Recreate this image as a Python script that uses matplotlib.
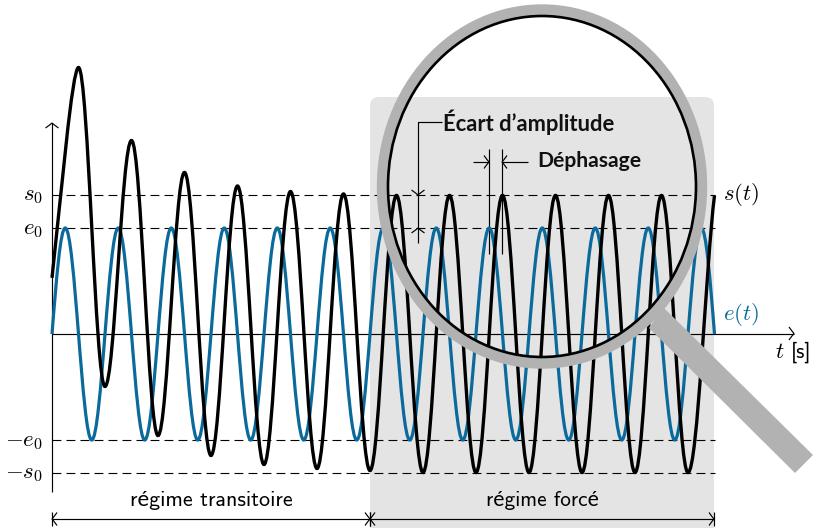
import math
import matplotlib
matplotlib.use("Agg")
import matplotlib.pyplot as plt
from matplotlib.path import Path
from matplotlib.patches import PathPatch, FancyBboxPatch, Ellipse, Polygon
from matplotlib.transforms import Affine2D

# ---- data (t in periods, amplitude in units of e0) ----
e_times = [0.0, 0.25, 0.75, 1.25, 1.75, 2.25, 2.75, 3.25, 3.75, 4.25, 4.75, 5.25, 5.75,
           6.25, 6.75, 7.25, 7.75, 8.25, 8.75, 9.25, 9.75, 10.25, 10.75, 11.25, 11.75, 12.25, 12.5]
e_values = [0.0, 1, -1, 1, -1, 1, -1, 1, -1, 1, -1, 1, -1,
            1, -1, 1, -1, 1, -1, 1, -1, 1, -1, 1, -1, 1, 0.0]
s_times = [0.0, 0.5, 1.0, 1.5, 2.0, 2.5, 3.0, 3.5, 4.0, 4.5, 5.0, 5.5, 6.0,
           6.5, 7.0, 7.5, 8.0, 8.5, 9.0, 9.5, 10.0, 10.5, 11.0, 11.5, 12.0, 12.5]
s_values = [0.53, 2.514, -0.495, 1.825, -0.958, 1.524, -1.146, 1.396, -1.231, 1.344, -1.269, 1.321, -1.288,
            1.307, -1.307, 1.307, -1.307, 1.307, -1.307, 1.307, -1.307, 1.307, -1.307, 1.307, -1.307, 1.307]
e0 = 1.0
s0 = 1.307
t_forced = 6.0
t_end = 12.5

BLUE = "#0b6a9c"
GREY = "#b2b2b2"
PANEL = "#e4e4e4"

fig = plt.figure(figsize=(8.16, 5.28), dpi=100)
plt.rcParams["mathtext.fontset"] = "cm"
ax = fig.add_axes([0, 0, 1, 1])
ax.set_xlim(-52 / 53, (816 - 52) / 53)
ax.set_ylim((334 - 528) / 106, 334 / 106)
ax.axis("off")
px = Affine2D().scale(1, -1).translate(0, 528)  # top-left pixel coordinates for annotations


def smooth(t, v, start_slope=None, end_slope=None, first_k=0.3642):
    verts = [(t[0], v[0])]
    codes = [Path.MOVETO]
    for i in range(len(t) - 1):
        L = t[i + 1] - t[i]
        c1 = (t[i] + 0.3642 * L, v[i])
        c2 = (t[i + 1] - 0.3642 * L, v[i + 1])
        if i == 0 and start_slope is not None:
            c1 = (t[i] + 0.326 * L, v[i] + start_slope * 0.326 * L)
            c2 = (t[i + 1] - first_k * L, v[i + 1])
        if i == len(t) - 2 and end_slope is not None:
            c2 = (t[i + 1] - 0.326 * L, v[i + 1] - end_slope * 0.326 * L)
        verts += [c1, c2, (t[i + 1], v[i + 1])]
        codes += [Path.CURVE4] * 3
    return Path(verts, codes)


# grey panel of the forced regime
ax.add_patch(FancyBboxPatch((370, 97), 344, 460, boxstyle="round,pad=0,rounding_size=9",
                            transform=px, fc=PANEL, ec="none", zorder=1))

# reference levels
for lvl in (s0, e0, -e0, -s0):
    ax.plot([0, t_end], [lvl, lvl], color="black", lw=0.8, dashes=(8, 4.6), zorder=2)


def line(xs, ys, z=3, lw=0.85):
    ax.plot(xs, ys, color="black", lw=lw, transform=px, zorder=z, solid_capstyle="butt")


def head(x, y, dx, dy, z=3, lw=0.85):
    """TikZ-like curved 'to' arrow head with its tip at (x, y), pointing along (dx, dy)."""
    n = math.hypot(dx, dy)
    ux, uy = dx / n, dy / n
    vx, vy = -uy, ux

    def p(a, b):
        return (x + a * ux + b * vx, y + a * uy + b * vy)

    verts = [p(-5, 6.5), p(-1.5, 1.6), p(0, 0), p(-1.5, -1.6), p(-5, -6.5)]
    codes = [Path.MOVETO, Path.CURVE3, Path.CURVE3, Path.CURVE3, Path.CURVE3]
    ax.add_patch(PathPatch(Path(verts, codes), fc="none", ec="black", lw=lw, transform=px, zorder=z))


def arrow(x0, y0, x1, y1):
    line([x0, x1], [y0, y1])
    head(x1, y1, x1 - x0, y1 - y0)


# axes
arrow(52, 492, 52, 123)
arrow(52, 333.5, 794, 333.5)

# signals
ax.add_patch(PathPatch(smooth(e_times, e_values, 6.28, -6.28), fc="none", ec=BLUE, lw=2.3, zorder=4,
                       capstyle="butt"))
ax.add_patch(PathPatch(smooth(s_times, s_values, 4.5, 4.0, first_k=0.24), fc="none", ec="black", lw=2.4, zorder=5,
                       capstyle="butt"))

# annotations
line([442, 418, 418], [122, 122, 243])
head(418, 195, 0, 1)
head(418, 228, 0, -1)
line([489, 489], [149, 254])
line([502, 502], [149, 254])
arrow(473, 162, 489, 162)
arrow(528, 162, 502, 162)

SANS = ["cmss10", "Lato"]
ax.text(443, 122, "Écart d’amplitude", transform=px, family="Lato", weight="bold", fontsize=15.8,
        va="center", ha="left", color="#111111", zorder=8)
ax.text(537, 161, "Déphasage", transform=px, family="Lato", weight="bold", fontsize=15.2,
        va="center", ha="left", color="#111111", zorder=8)

# brackets
for a, b in ((52, 370), (370, 714)):
    line([a, b], [519, 519])
    head(a, 519, -1, 0)
    head(b, 519, 1, 0)
    line([a, a], [512, 526])
    line([b, b], [512, 526])
ax.text(211, 500, "régime transitoire", transform=px, family=SANS, fontsize=15.9, ha="center", va="center")
ax.text(542, 500, "régime forcé", transform=px, family=SANS, fontsize=15.3, ha="center", va="center")

# labels
for txt, y in ((r"$s_0$", 195), (r"$e_0$", 228), (r"$-e_0$", 440), (r"$-s_0$", 473)):
    ax.text(43, y, txt, transform=px, fontsize=16.5, ha="right", va="center")
ax.text(723, 195, r"$s(t)$", transform=px, fontsize=16.5, ha="left", va="center")
ax.text(723, 315, r"$e(t)$", transform=px, fontsize=16.5, ha="left", va="center", color=BLUE)
ax.text(775, 352, r"$t$", transform=px, fontsize=16.5, ha="left", va="center")
ax.text(791, 352, "[s]", transform=px, family=SANS, fontsize=15.5, ha="left", va="center")

# magnifying glass
ax.add_patch(Polygon([(663, 307), (649, 328), (795, 473), (813, 455)], closed=True, transform=px,
                     fc=GREY, ec="none", zorder=9))
ax.add_patch(Ellipse((542, 186.5), 319, 353, transform=px, fc="none", ec=GREY, lw=8.2, zorder=10))
ax.add_patch(Ellipse((542, 186.5), 308, 341, transform=px, fc="none", ec="black", lw=1.9, zorder=11))

fig.savefig("out.png", dpi=100)
